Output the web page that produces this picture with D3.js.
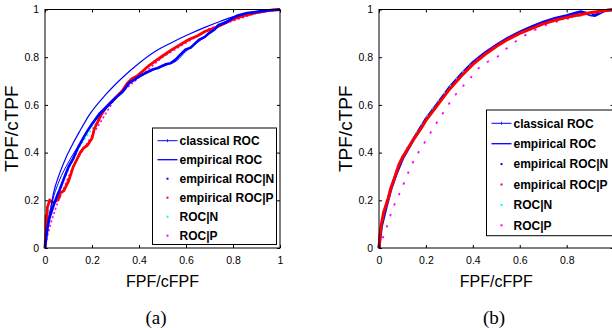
<!DOCTYPE html>
<html>
<head>
<meta charset="utf-8">
<script src="https://cdn.jsdelivr.net/npm/d3@7"></script>
<style>
  body { margin: 0; background: #fff; }
  text { font-family: "Liberation Sans", Arial, sans-serif; }
  text.caption { font-family: "Liberation Serif", "Times New Roman", serif; }
</style>
</head>
<body>
<svg id="mainsvg" width="612" height="328"></svg>
<script>
// ---- data ----
const ticksA = [0, 0.2, 0.4, 0.6, 0.8, 1];
const ticksB = [0, 0.2, 0.4, 0.6, 0.8];
const legendLabels = ['classical ROC', 'empirical ROC', 'empirical ROC|N', 'empirical ROC|P', 'ROC|N', 'ROC|P'];

// panel (a)
const aClassicalX = [0, 0.01, 0.02, 0.035, 0.063, 0.092, 0.12, 0.148, 0.19, 0.26, 0.33, 0.4, 0.47, 0.54, 0.61, 0.68, 0.75, 0.81, 0.9, 1];
const aClassicalY = [0, 0.085, 0.14, 0.225, 0.315, 0.385, 0.44, 0.49, 0.56, 0.645, 0.715, 0.775, 0.825, 0.862, 0.895, 0.925, 0.952, 0.972, 0.99, 1];
const aEmpX = [0, 0.01, 0.03, 0.06, 0.1, 0.15, 0.2, 0.26, 0.3, 0.36, 0.4, 0.46, 0.51, 0.56, 0.6, 0.66, 0.7, 0.74, 0.8, 0.86, 1];
const aEmpY = [0, 0.09, 0.19, 0.28, 0.36, 0.44, 0.515, 0.585, 0.625, 0.69, 0.715, 0.745, 0.765, 0.785, 0.825, 0.87, 0.9, 0.935, 0.963, 0.985, 1];
const aEmpNX = [0, 0.01, 0.02, 0.035, 0.05, 0.063, 0.08, 0.1, 0.12, 0.14, 0.162, 0.18, 0.2, 0.232, 0.26, 0.28, 0.303, 0.33, 0.36, 0.38, 0.4, 0.43, 0.458, 0.48, 0.514, 0.535, 0.556, 0.575, 0.598, 0.62, 0.655, 0.68, 0.697, 0.72, 0.739, 0.77, 0.796, 0.82, 0.86, 0.9, 0.95, 1];
const aEmpNY = [0, 0.08, 0.13, 0.175, 0.215, 0.245, 0.29, 0.34, 0.375, 0.42, 0.46, 0.49, 0.52, 0.563, 0.59, 0.61, 0.632, 0.655, 0.694, 0.705, 0.72, 0.735, 0.749, 0.755, 0.77, 0.775, 0.79, 0.81, 0.832, 0.84, 0.873, 0.885, 0.9, 0.915, 0.935, 0.945, 0.963, 0.975, 0.985, 0.99, 0.997, 1];
const aEmpPX = [0, 0.003, 0.005, 0.008, 0.01, 0.02, 0.035, 0.05, 0.06, 0.065, 0.08, 0.09, 0.1, 0.11, 0.12, 0.135, 0.15, 0.165, 0.18, 0.2, 0.21, 0.225, 0.24, 0.26, 0.28, 0.3, 0.33, 0.35, 0.37, 0.39, 0.42, 0.44, 0.47, 0.5, 0.54, 0.58, 0.61, 0.65, 0.68, 0.72, 0.75, 0.78, 0.81, 0.85, 0.9, 0.95, 1];
const aEmpPY = [0, 0.06, 0.14, 0.1, 0.17, 0.2, 0.19, 0.2, 0.21, 0.23, 0.24, 0.26, 0.28, 0.31, 0.34, 0.37, 0.4, 0.42, 0.43, 0.46, 0.5, 0.53, 0.56, 0.59, 0.61, 0.63, 0.66, 0.69, 0.71, 0.72, 0.745, 0.763, 0.785, 0.805, 0.832, 0.855, 0.873, 0.89, 0.908, 0.922, 0.935, 0.95, 0.963, 0.975, 0.987, 0.995, 1];
const aRocNX = [0, 0.02, 0.05, 0.1, 0.15, 0.2, 0.25, 0.3, 0.35, 0.4, 0.45, 0.5, 0.55, 0.6, 0.7, 0.8, 0.9, 1];
const aRocNY = [0, 0.12, 0.22, 0.33, 0.43, 0.5, 0.57, 0.625, 0.68, 0.73, 0.77, 0.8, 0.835, 0.865, 0.915, 0.96, 0.985, 1];
const aRocPX = [0, 0.01, 0.03, 0.05, 0.08, 0.1, 0.13, 0.16, 0.2, 0.3, 0.5, 0.7, 0.9, 1];
const aRocPY = [0, 0.05, 0.12, 0.18, 0.25, 0.3, 0.36, 0.41, 0.47, 0.63, 0.8, 0.92, 0.985, 1];

// panel (b)
const bMainX = [0, 0.005, 0.01, 0.02, 0.03, 0.04, 0.05, 0.065, 0.075, 0.085, 0.1, 0.125, 0.15, 0.182, 0.2, 0.239, 0.25, 0.3, 0.35, 0.4, 0.45, 0.5, 0.55, 0.6, 0.65, 0.7, 0.75, 0.8, 0.85, 0.9, 0.95, 1];
const bMainY = [0, 0.06, 0.1, 0.15, 0.18, 0.21, 0.25, 0.29, 0.32, 0.35, 0.38, 0.42, 0.46, 0.505, 0.535, 0.585, 0.6, 0.665, 0.72, 0.77, 0.81, 0.845, 0.875, 0.9, 0.92, 0.94, 0.955, 0.967, 0.977, 0.986, 0.994, 1];
const bEmpNX = [0, 0.01, 0.03, 0.05, 0.075, 0.1, 0.15, 0.2, 0.25, 0.3, 0.35, 0.4, 0.45, 0.5, 0.55, 0.6, 0.65, 0.7, 0.75, 0.8, 0.84, 0.86, 0.88, 0.9, 0.92, 0.94, 0.96, 1];
const bEmpNY = [0, 0.09, 0.17, 0.245, 0.315, 0.375, 0.46, 0.54, 0.605, 0.672, 0.727, 0.777, 0.817, 0.85, 0.88, 0.905, 0.927, 0.947, 0.962, 0.974, 0.986, 0.99, 0.986, 0.978, 0.975, 0.985, 0.995, 1];
const bRocNX = [0, 0.02, 0.05, 0.1, 0.15, 0.2, 0.25, 0.3, 0.35, 0.4, 0.5, 0.6, 0.7, 0.8, 0.9, 1];
const bRocNY = [0, 0.16, 0.26, 0.39, 0.47, 0.55, 0.615, 0.675, 0.73, 0.775, 0.85, 0.9, 0.94, 0.962, 0.98, 1];
const bRocPX = [0, 0.026, 0.054, 0.097, 0.139, 0.196, 0.267, 0.324, 0.381, 0.438, 0.502, 0.56, 0.62, 0.7, 0.8, 0.9, 1];
const bRocPY = [0, 0.068, 0.152, 0.25, 0.348, 0.445, 0.557, 0.64, 0.703, 0.766, 0.8, 0.85, 0.89, 0.93, 0.96, 0.985, 1];

const zip = (xs, ys) => xs.map((x, i) => [x, ys[i]]);

const svg = d3.select('#mainsvg');

// one panel
function drawPanel(opt) {
  const x = d3.scaleLinear().domain([0, 1]).range([opt.left, opt.right]);
  const y = d3.scaleLinear().domain([0, 1]).range([opt.bottom, opt.top]);
  const g = svg.append('g');

  const line = d3.line().x(d => x(d[0])).y(d => y(d[1]));
  const smooth = d3.line().x(d => x(d[0])).y(d => y(d[1])).curve(d3.curveMonotoneX);

  // series, back to front
  opt.series.forEach(s => {
    g.append('path')
      .attr('d', (s.smooth ? smooth : line)(zip(s.x, s.y)))
      .attr('fill', 'none')
      .attr('stroke', s.color)
      .attr('stroke-width', s.width)
      .attr('stroke-dasharray', s.dash || null)
      .attr('stroke-linecap', s.dash ? 'square' : 'butt');
  });

  // axes, matlab style inward ticks
  const fmt = d => String(d);
  g.append('g').attr('transform', `translate(0,${opt.bottom})`)
    .call(d3.axisBottom(x).tickValues(opt.xticks).tickSize(-3).tickPadding(9).tickFormat(fmt));
  g.append('g').attr('transform', `translate(0,${opt.top})`)
    .call(d3.axisTop(x).tickValues(opt.xticks).tickSize(-3).tickFormat(''));
  g.append('g').attr('transform', `translate(${opt.left},0)`)
    .call(d3.axisLeft(y).tickValues(ticksA).tickSize(-3).tickPadding(6).tickFormat(fmt));
  g.append('g').attr('transform', `translate(${opt.right},0)`)
    .call(d3.axisRight(y).tickValues(ticksA).tickSize(-3).tickFormat(''));
  g.selectAll('.domain').remove();
  g.selectAll('.tick line').attr('stroke', '#000');
  g.selectAll('.tick text').attr('font-size', 10.5).attr('fill', '#000');

  g.append('rect')
    .attr('x', opt.left).attr('y', opt.top)
    .attr('width', opt.right - opt.left).attr('height', opt.bottom - opt.top)
    .attr('fill', 'none').attr('stroke', '#000').attr('stroke-width', 1);

  // axis titles
  g.append('text')
    .attr('x', (opt.left + opt.right) / 2).attr('y', 287)
    .attr('text-anchor', 'middle').attr('font-size', 16)
    .text('FPF/cFPF');
  g.append('text')
    .attr('transform', `translate(${opt.left - 27},${(opt.top + opt.bottom) / 2}) rotate(-90)`)
    .attr('text-anchor', 'middle').attr('font-size', 19)
    .text('TPF/cTPF');

  // sub caption
  g.append('text')
    .attr('class', 'caption')
    .attr('x', opt.caption[0]).attr('y', 324)
    .attr('text-anchor', 'middle')
    .attr('font-size', 19)
    .text(opt.caption[1]);

  // legend
  const L = opt.legend;
  const lg = g.append('g');
  lg.append('rect')
    .attr('x', L.x).attr('y', L.y).attr('width', L.w).attr('height', L.h)
    .attr('fill', '#fff').attr('stroke', '#000').attr('stroke-width', 1);
  const colors = ['#0000ff', '#0000ff', '#0000ff', '#ff0000', '#00ffff', '#ff00ff'];
  legendLabels.forEach((lab, i) => {
    const cy = L.row0 + i * L.step;
    if (i < 2) {
      lg.append('line')
        .attr('x1', L.x + 5).attr('x2', L.x + 25)
        .attr('y1', cy).attr('y2', cy)
        .attr('stroke', colors[i]).attr('stroke-width', i === 0 ? 1 : 1.3);
      if (i === 0) {
        lg.append('line')
          .attr('x1', L.x + 15).attr('x2', L.x + 15)
          .attr('y1', cy - 1.5).attr('y2', cy + 1.5)
          .attr('stroke', colors[i]).attr('stroke-width', 0.8);
      }
    } else {
      lg.append('rect')
        .attr('x', L.x + 14).attr('y', cy - 1)
        .attr('width', 2).attr('height', 2)
        .attr('fill', colors[i]);
    }
    lg.append('text')
      .attr('x', L.x + 27).attr('y', cy)
      .attr('dy', '0.36em')
      .attr('font-size', 12).attr('font-weight', 'bold')
      .text(lab);
  });
}

drawPanel({
  left: 45, right: 280, top: 9.5, bottom: 248,
  xticks: ticksA,
  caption: [156, '(a)'],
  legend: {x: 152.5, y: 128, w: 124, h: 116.5, row0: 140.7, step: 19},
  series: [
    {x: aRocNX, y: aRocNY, color: '#00ffff', width: 1.6, dash: '0.5,4'},
    {x: aRocPX, y: aRocPY, color: '#ff00ff', width: 1.6, dash: '0.5,4'},
    {x: aEmpPX, y: aEmpPY, color: '#ff0000', width: 2.8},
    {x: aEmpNX, y: aEmpNY, color: '#0000ff', width: 2.6},
    {x: aEmpX, y: aEmpY, color: '#0000ff', width: 1, smooth: true},
    {x: aClassicalX, y: aClassicalY, color: '#0000ff', width: 1.2, smooth: true}
  ]
});

drawPanel({
  left: 379, right: 613.6, top: 9.5, bottom: 248,
  xticks: ticksB,
  caption: [494, '(b)'],
  legend: {x: 486.5, y: 110, w: 140, h: 125.7, row0: 123.3, step: 20.4},
  series: [
    {x: bRocPX, y: bRocPY, color: '#ff00ff', width: 1.8, dash: '0.5,11', smooth: true},
    {x: bMainX, y: bMainY, color: '#0000ff', width: 1.2, smooth: true},
    {x: bEmpNX, y: bEmpNY, color: '#0000ff', width: 3},
    {x: bRocNX, y: bRocNY, color: '#00ffff', width: 1.6, dash: '0.5,9'},
    {x: bMainX, y: bMainY, color: '#ff0000', width: 3}
  ]
});
</script>
</body>
</html>
